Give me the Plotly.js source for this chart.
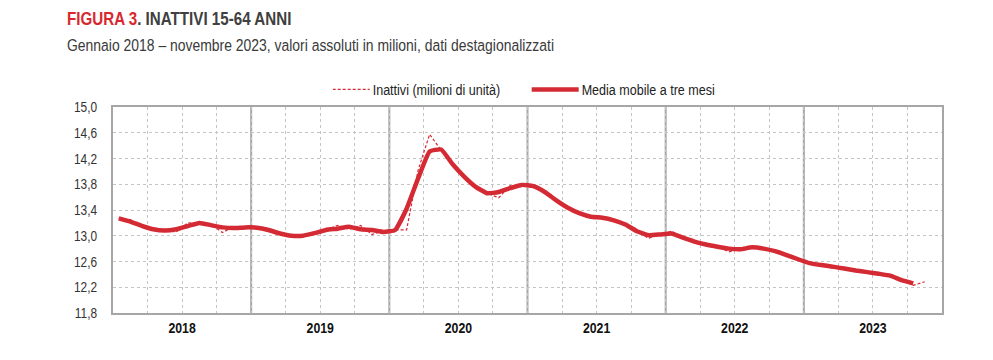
<!DOCTYPE html>
<html>
<head>
<meta charset="utf-8">
<script src="https://cdn.plot.ly/plotly-3.0.1.min.js"></script>
<style>
  html, body { margin: 0; padding: 0; background: #ffffff; }
  #chart { width: 993px; height: 360px; }
</style>
</head>
<body>
<div id="chart"></div>
<script>
// Years shown on the x axis (monthly data, Jan 2018 - Nov 2023)
const years = ['2018', '2019', '2020', '2021', '2022', '2023'];

// Inattivi 15-64 anni (milioni di unità), Jan 2018 .. Nov 2023
const inattivi = [
  13.27, 13.25, 13.15, 13.10, 13.08, 13.06, 13.20, 13.19, 13.18, 13.05, 13.14, 13.13,
  13.11, 13.12, 13.03, 12.99, 13.00, 13.02, 13.09, 13.16, 13.10, 13.16, 13.02, 13.08,
  13.09, 13.09, 14.02, 14.575, 14.33, 14.11, 13.90, 13.75, 13.66, 13.59, 13.78, 13.78,
  13.79, 13.70, 13.56, 13.42, 13.33, 13.30, 13.27, 13.25, 13.18, 13.08, 12.96, 13.02,
  13.07, 12.98, 12.91, 12.86, 12.83, 12.75, 12.80, 12.84, 12.79, 12.76, 12.70, 12.63,
  12.57, 12.55, 12.52, 12.49, 12.46, 12.44, 12.41, 12.37, 12.31, 12.23, 12.285
];

// Media mobile a tre mesi, Jan 2018 .. Oct 2023
const mediaMobile = [
  13.27, 13.22, 13.155, 13.10, 13.08, 13.10, 13.15, 13.20, 13.165, 13.13, 13.12, 13.13,
  13.125, 13.09, 13.035, 13.00, 13.00, 13.04, 13.09, 13.11, 13.14, 13.10, 13.09, 13.06,
  13.09, 13.42, 13.89, 14.31, 14.34, 14.11, 13.92, 13.76, 13.66, 13.68, 13.74, 13.79,
  13.77, 13.68, 13.55, 13.435, 13.35, 13.295, 13.28, 13.24, 13.175, 13.07, 13.01, 13.02,
  13.035, 12.97, 12.91, 12.865, 12.83, 12.80, 12.79, 12.82, 12.80, 12.76, 12.70, 12.635,
  12.575, 12.545, 12.52, 12.49, 12.46, 12.435, 12.41, 12.38, 12.31, 12.26
];

// Month index (0 = Jan 2018)
const xRaw = inattivi.map((_, i) => i);
const xMa = mediaMobile.map((_, i) => i);

const RED = '#d42a33';
const FONT = '"Liberation Sans", Arial, sans-serif';
const NARROW = 0.82; // horizontal compression to imitate a narrow face

const traces = [
  {
    x: xRaw, y: inattivi, type: 'scatter', mode: 'lines',
    name: 'Inattivi (milioni di unità)',
    line: { color: RED, width: 1.2, dash: '3px,2px' }
  },
  {
    x: xMa, y: mediaMobile, type: 'scatter', mode: 'lines',
    name: 'Media mobile a tre mesi',
    line: { color: RED, width: 4.5, shape: 'spline', smoothing: 0.4 }
  }
];

const yearBounds = years.map((_, k) => k * 12 - 0.5).concat([years.length * 12 - 0.5]);
const shapes = yearBounds.slice(1, -1).map(v => ({
  type: 'line', xref: 'x', yref: 'paper', x0: v, x1: v, y0: 0, y1: 1,
  line: { color: '#a6a6a6', width: 2 }, layer: 'below'
}));

const layout = {
  width: 993, height: 360,
  margin: { l: 113, r: 51, t: 107, b: 47 },
  paper_bgcolor: '#ffffff', plot_bgcolor: '#ffffff',
  separators: ',.',
  font: { family: FONT, color: '#333333', size: 13 },
  showlegend: true,
  legend: {
    orientation: 'h', x: 0.265, xanchor: 'left', y: 1.085, yanchor: 'middle',
    font: { family: FONT, size: 15.3, color: '#222222' },
    bgcolor: 'rgba(0,0,0,0)', traceorder: 'normal',
    entrywidth: 164, entrywidthmode: 'pixels'
  },
  xaxis: {
    range: [-0.5, years.length * 12 - 0.5],
    tickvals: years.map((_, k) => k * 12 + 5.5),
    ticktext: years,
    tickfont: { family: FONT, size: 15, color: '#111111', weight: 'bold' },
    ticks: '', ticklabelstandoff: 0,
    showgrid: true, gridcolor: '#c4c4c4', griddash: 'dot', gridwidth: 1,
    minor: { tick0: -0.5, dtick: 3, showgrid: true, gridcolor: '#c4c4c4', griddash: 'dot', gridwidth: 1, ticks: '' },
    showline: true, linecolor: '#a6a6a6', linewidth: 2, mirror: true,
    zeroline: false, fixedrange: true
  },
  yaxis: {
    range: [11.8, 15.0], dtick: 0.4, tick0: 11.8, tickformat: '.1f',
    tickfont: { family: FONT, size: 14.5, color: '#333333' },
    ticks: '', ticklabelstandoff: 11,
    showgrid: true, gridcolor: '#c4c4c4', griddash: 'dot', gridwidth: 1,
    showline: true, linecolor: '#a6a6a6', linewidth: 2, mirror: true,
    zeroline: false, fixedrange: true
  },
  shapes: shapes,
  annotations: [
    {
      xref: 'paper', yref: 'paper', x: -0.058, y: 1.43, xanchor: 'left', yanchor: 'middle',
      showarrow: false, align: 'left',
      text: '<b><span style="color:#d7282f">FIGURA 3</span>. INATTIVI 15-64 ANNI</b>',
      font: { family: FONT, size: 18.5, color: '#404040' }
    },
    {
      xref: 'paper', yref: 'paper', x: -0.058, y: 1.30, xanchor: 'left', yanchor: 'middle',
      showarrow: false, align: 'left',
      text: 'Gennaio 2018 – novembre 2023, valori assoluti in milioni, dati destagionalizzati',
      font: { family: FONT, size: 17, color: '#3a3a3a' }
    }
  ]
};

Plotly.newPlot('chart', traces, layout, { displayModeBar: false, staticPlot: true }).then(gd => {
  // compress every text horizontally around its anchor (narrow face look), keeping it real text
  gd.querySelectorAll('svg text').forEach(t => {
    const bb = t.getBBox();
    if (!bb.width) return;
    const anchor = t.getAttribute('text-anchor') || window.getComputedStyle(t).textAnchor || 'start';
    const ox = anchor === 'end' ? bb.x + bb.width : (anchor === 'middle' ? bb.x + bb.width / 2 : bb.x);
    const prev = t.getAttribute('transform') || '';
    t.setAttribute('transform',
      (prev + ' translate(' + ox.toFixed(2) + ',0) scale(' + NARROW + ',1) translate(' + (-ox).toFixed(2) + ',0)').trim());
  });
  // annotation background boxes follow the narrower text
  gd.querySelectorAll('.annotation rect.bg').forEach(r => {
    const w = parseFloat(r.getAttribute('width')) || 0;
    r.setAttribute('width', (w * NARROW).toFixed(2));
  });
  // longer legend line samples, as in the reference
  gd.querySelectorAll('.legend .legendlines path').forEach(p => {
    p.setAttribute('d', 'M-10,0h47');
  });
});
</script>
</body>
</html>
